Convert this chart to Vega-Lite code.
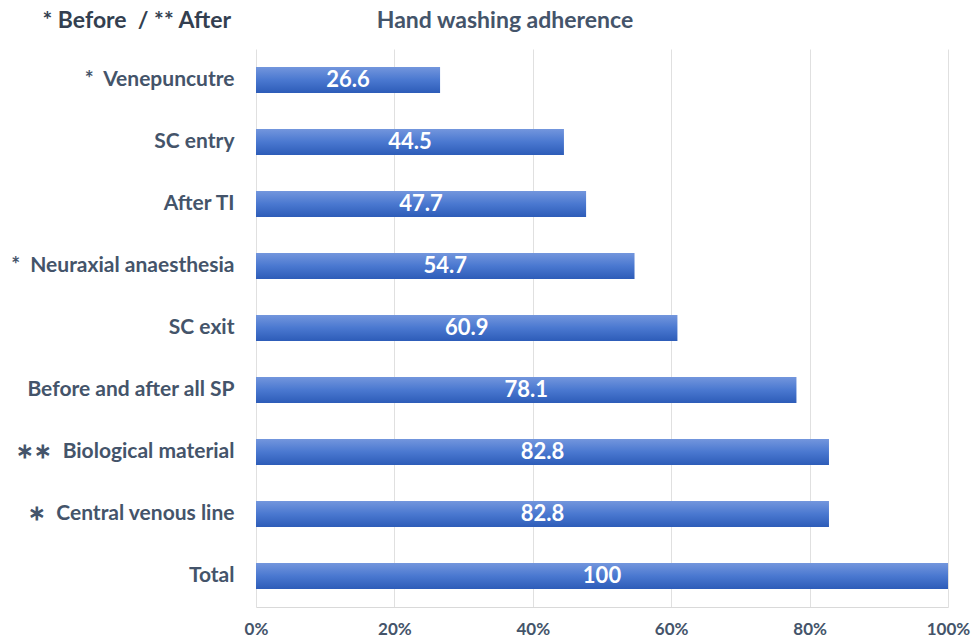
{
  "$schema": "https://vega.github.io/schema/vega-lite/v6.json",
  "width": 692,
  "height": 558,
  "autosize": {"type": "none"},
  "padding": {"left": 256, "top": 49, "right": 23, "bottom": 31},
  "background": "white",
  "title": {
    "text": "Hand washing adherence",
    "anchor": "middle",
    "dx": -97,
    "offset": -24,
    "font": "Lato",
    "fontSize": 23,
    "fontWeight": "bold",
    "color": "#44546A"
  },
  "data": {
    "values": [
      {"label": "*\u00a0\u00a0Venepuncutre", "value": 26.6},
      {"label": "SC entry", "value": 44.5},
      {"label": "After TI", "value": 47.7},
      {"label": "*\u00a0\u00a0Neuraxial anaesthesia", "value": 54.7},
      {"label": "SC exit", "value": 60.9},
      {"label": "Before and after all SP", "value": 78.1},
      {"label": "∗∗\u00a0\u00a0Biological material", "value": 82.8},
      {"label": "∗\u00a0\u00a0Central venous line", "value": 82.8},
      {"label": "Total", "value": 100}
    ]
  },
  "encoding": {
    "y": {
      "field": "label",
      "type": "nominal",
      "sort": null,
      "scale": {"paddingInner": 0.58, "paddingOuter": 0.29},
      "axis": {
        "title": "* Before\u00a0\u00a0/ ** After",
        "titleAngle": 0,
        "titleX": -214,
        "titleY": -29,
        "titleAlign": "left",
        "titleBaseline": "middle",
        "titleFont": "Lato",
        "titleFontSize": 23,
        "titleFontWeight": "bold",
        "titleColor": "#333F50",
        "labelFont": "Lato",
        "labelFontSize": 21,
        "labelFontWeight": "bold",
        "labelColor": "#44546A",
        "labelPadding": 22,
        "ticks": false,
        "domain": false,
        "labelLimit": 300
      }
    }
  },
  "layer": [
    {
      "mark": {
        "type": "bar",
        "color": {
          "gradient": "linear",
          "x1": 0, "y1": 0, "x2": 0, "y2": 1,
          "stops": [
            {"offset": 0, "color": "#7396DD"},
            {"offset": 0.5, "color": "#4A78D0"},
            {"offset": 1, "color": "#2D5CB8"}
          ]
        }
      },
      "encoding": {
        "x": {
          "field": "value",
          "type": "quantitative",
          "scale": {"domain": [0, 100]},
          "axis": {
            "values": [0, 20, 40, 60, 80, 100],
            "labelExpr": "datum.value + '%'",
            "title": null,
            "grid": true,
            "gridColor": "#E0E0E0",
            "domainColor": "#D9D9D9",
            "ticks": false,
            "labelFont": "Lato",
            "labelFontSize": 17,
            "labelFontWeight": "bold",
            "labelColor": "#44546A",
            "labelPadding": 14,
            "labelFlush": false
          }
        }
      }
    },
    {
      "transform": [{"calculate": "datum.value / 2", "as": "mid"}],
      "mark": {
        "type": "text",
        "font": "Lato",
        "fontSize": 22,
        "fontWeight": "bold",
        "color": "white",
        "baseline": "middle",
        "align": "center"
      },
      "encoding": {
        "x": {"field": "mid", "type": "quantitative"},
        "text": {"field": "value", "type": "quantitative"}
      }
    }
  ],
  "config": {"view": {"stroke": null}}
}
